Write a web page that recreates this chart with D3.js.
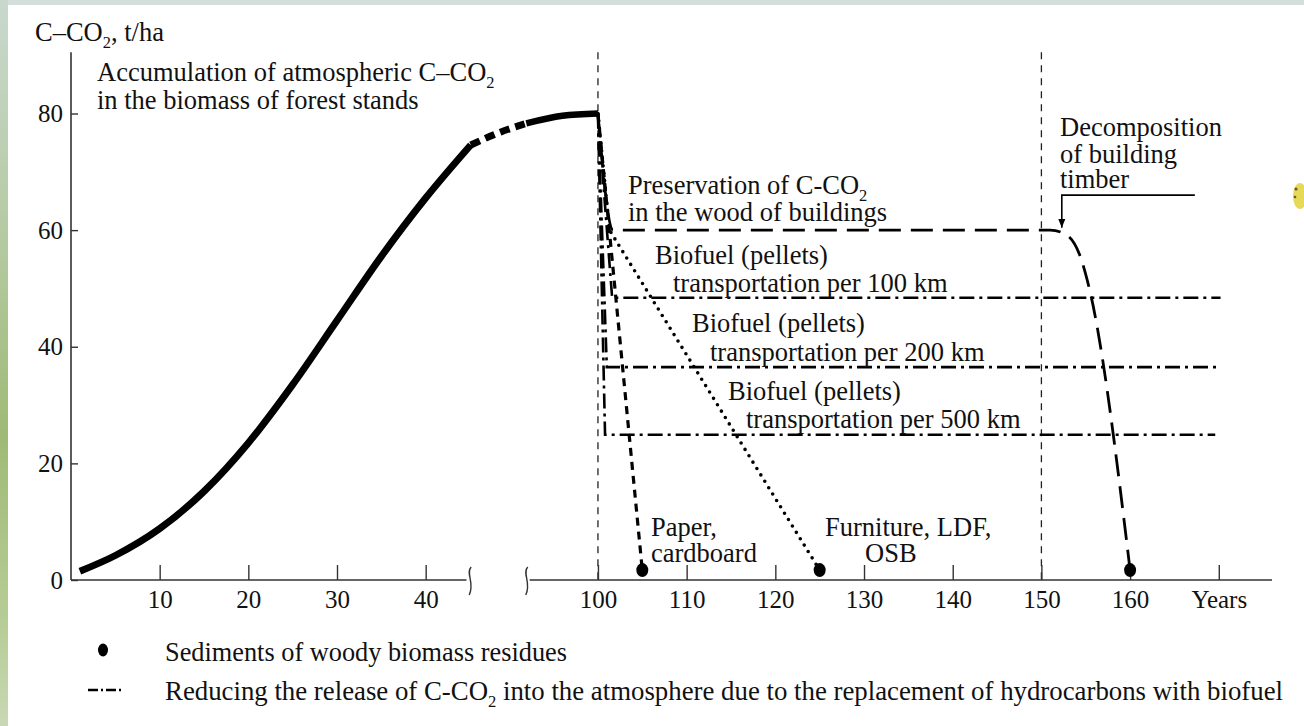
<!DOCTYPE html>
<html><head><meta charset="utf-8">
<script src="https://cdn.jsdelivr.net/npm/d3@7"></script>
<style>
html,body{margin:0;padding:0;background:#fff;overflow:hidden;}
svg{display:block;}
text{font-family:"Liberation Serif","DejaVu Serif","Times New Roman",serif;fill:#111;}
</style></head><body>
<svg id="chart" width="1304" height="726"></svg>
<script>
// ---------------- data ----------------
const growthYears   = [1, 5, 10, 15, 20, 25, 30, 35, 40, 45.6];
const growthValues  = [1.5, 4.2, 8.8, 15.2, 23.5, 33.5, 44.5, 55.5, 65.5, 74.6];
const breakYears    = [45.6, 70, 91.4];
const breakValues   = [74.6, 76.8, 78.3];
const matureYears   = [91.4, 96, 100];
const matureValues  = [78.3, 79.6, 80];

const buildingYears  = [100, 101.7, 151, 152.8, 154.3, 155.4, 160];
const buildingValues = [80, 60, 60, 59.2, 55.8, 50, 1.7];

const paperYears  = [100, 105];
const paperValues = [80, 1.7];

const furnitureYears  = [100, 101.3, 125];
const furnitureValues = [80, 60, 1.7];

const bio100Years = [100, 101.6, 170.2];
const bio100Values = [80, 48.4, 48.4];
const bio200Years = [100, 101.0, 170.2];
const bio200Values = [80, 36.5, 36.5];
const bio500Years = [100, 100.8, 169.6];
const bio500Values = [80, 24.9, 24.9];

const residueYears  = [105, 125, 160];
const residueValues = [1.7, 1.7, 1.7];

const guideYears = [100, 150];

const xTicksLeft  = [10, 20, 30, 40];
const xTicksRight = [100, 110, 120, 130, 140, 150, 160, 170];
const xTickLabels = {170: "Years"};
const yTicks = [0, 20, 40, 60, 80];

const arrowYears  = [167.3, 152.3, 152.3];
const arrowValues = [66.0, 66.0, 60.4];

// ---------------- layout ----------------
const svg = d3.select("#chart");
const x = d3.scaleLinear().domain([0, 45, 92, 176]).range([71, 470, 527, 1272]);
const y = d3.scaleLinear().domain([0, 80]).range([580, 113.5]);
const yTop = 90.5;
const FONT = '"Liberation Serif","DejaVu Serif","Times New Roman",serif';

// page decoration
const defs = svg.append("defs");
const grad = defs.append("linearGradient").attr("id","leftbar").attr("x1",0).attr("x2",0).attr("y1",0).attr("y2",1);
[[0,"#c9d8ce"],[0.35,"#b3c99e"],[0.6,"#9fba76"],[0.85,"#b6cc95"],[1,"#c8d8b4"]].forEach(d=>
  grad.append("stop").attr("offset",d[0]).attr("stop-color",d[1]));
svg.append("rect").attr("x",0).attr("y",0).attr("width",1304).attr("height",5).attr("fill","#d4dedb");
svg.append("rect").attr("x",0).attr("y",0).attr("width",8).attr("height",726).attr("fill","url(#leftbar)");
svg.append("ellipse").attr("cx",1300).attr("cy",196).attr("rx",7).attr("ry",13).attr("fill","#e0d23a").attr("opacity",0.85);
svg.append("circle").attr("cx",1296).attr("cy",189).attr("r",1.6).attr("fill","#6b5a20");
svg.append("circle").attr("cx",1295).attr("cy",197).attr("r",1.3).attr("fill","#6b5a20");

// helper for text with subscripts marked as {..}
function richText(g, str, px, py, size, opts={}) {
  const t = g.append("text").attr("x",px).attr("y",py).attr("font-size",size).attr("font-family",FONT);
  if (opts.anchor) t.attr("text-anchor",opts.anchor);
  const parts = str.split(/(\{[^}]*\})/).filter(p=>p.length);
  let pending = 0;
  parts.forEach(p=>{
    if (p[0]==="{") {
      t.append("tspan").attr("font-size",size*0.62).attr("dy",size*0.25).text(p.slice(1,-1));
      pending = -size*0.25;
    } else {
      const s = t.append("tspan").text(p);
      if (pending) { s.attr("dy",pending); pending = 0; }
    }
  });
  if (opts.len) t.attr("textLength",opts.len).attr("lengthAdjust","spacingAndGlyphs");
  return t;
}

// guide lines
svg.append("g").selectAll("line").data(guideYears).join("line")
  .attr("x1",d=>x(d)).attr("x2",d=>x(d)).attr("y1",y(yTop)).attr("y2",y(0))
  .attr("stroke","#222").attr("stroke-width",1.3).attr("stroke-dasharray","7,6");

// axes
const axisCol = "#333";
svg.append("line").attr("x1",x(0)).attr("x2",x(0)).attr("y1",y(0)).attr("y2",y(yTop))
  .attr("stroke",axisCol).attr("stroke-width",1.6);
const yAxis = svg.append("g").attr("transform",`translate(${x(0)},0)`)
  .call(d3.axisLeft(y).tickValues(yTicks).tickSizeInner(-7).tickSizeOuter(0).tickPadding(8));
yAxis.select(".domain").remove();
yAxis.selectAll(".tick line").attr("stroke",axisCol).attr("stroke-width",1.4);
yAxis.selectAll(".tick text").attr("font-size",25).attr("font-family",FONT).attr("fill","#111");

const xAxis = svg.append("g").attr("transform",`translate(0,${y(0)})`)
  .call(d3.axisBottom(x).tickValues(xTicksLeft.concat(xTicksRight)).tickSizeInner(-15).tickSizeOuter(0).tickPadding(10)
    .tickFormat(d=>xTickLabels[d]||String(d)));
xAxis.select(".domain").remove();
xAxis.selectAll(".tick line").attr("stroke",axisCol).attr("stroke-width",1.4);
xAxis.selectAll(".tick text").attr("font-size",25).attr("font-family",FONT).attr("fill","#111");

const segs = [[0,44.6],[92.3,176]];
svg.append("g").selectAll("line").data(segs).join("line")
  .attr("x1",d=>x(d[0])).attr("x2",d=>x(d[1])).attr("y1",y(0)).attr("y2",y(0))
  .attr("stroke",axisCol).attr("stroke-width",1.6);
// break squiggles
[45.15, 91.8].forEach(b=>{
  const cx = x(b), cy = y(0)+1;
  svg.append("path")
    .attr("d",`M${cx+1},${cy-14} C${cx-5},${cy-8} ${cx+5},${cy+2} ${cx-1},${cy+14}`)
    .attr("fill","none").attr("stroke",axisCol).attr("stroke-width",1.4);
});

// line generator
const lineGen = (curve)=> d3.line().x(d=>x(d[0])).y(d=>y(d[1])).curve(curve);
const zip = (a,b)=>a.map((v,i)=>[v,b[i]]);

// growth curve
svg.append("path").datum(zip(growthYears,growthValues))
  .attr("d",lineGen(d3.curveMonotoneX)).attr("fill","none").attr("stroke","#000").attr("stroke-width",7);
svg.append("path").datum(zip(breakYears,breakValues))
  .attr("d",lineGen(d3.curveMonotoneX)).attr("fill","none").attr("stroke","#000").attr("stroke-width",7)
  .attr("stroke-dasharray","10,6");
svg.append("path").datum(zip(matureYears,matureValues))
  .attr("d",lineGen(d3.curveMonotoneX)).attr("fill","none").attr("stroke","#000").attr("stroke-width",6.5);

// biofuel dash-dot
[[bio100Years,bio100Values],[bio200Years,bio200Values],[bio500Years,bio500Values]].forEach(s=>{
  svg.append("path").datum(zip(s[0],s[1])).attr("d",lineGen(d3.curveLinear))
    .attr("fill","none").attr("stroke","#000").attr("stroke-width",2.6).attr("stroke-dasharray","15,5,3,5");
});
// paper dashed
svg.append("path").datum(zip(paperYears,paperValues)).attr("d",lineGen(d3.curveLinear))
  .attr("fill","none").attr("stroke","#000").attr("stroke-width",3.2).attr("stroke-dasharray","8,6");
// furniture dotted
svg.append("path").datum(zip(furnitureYears,furnitureValues)).attr("d",lineGen(d3.curveLinear))
  .attr("fill","none").attr("stroke","#000").attr("stroke-width",3.6).attr("stroke-linecap","round")
  .attr("stroke-dasharray","0,7.5");
// building timber long dash
svg.append("path").datum(zip(buildingYears,buildingValues)).attr("d",lineGen(d3.curveMonotoneX))
  .attr("fill","none").attr("stroke","#000").attr("stroke-width",2.8).attr("stroke-dasharray","22,10");

// residue dots
svg.append("g").selectAll("ellipse").data(zip(residueYears,residueValues)).join("ellipse")
  .attr("cx",d=>x(d[0])).attr("cy",d=>y(d[1])).attr("rx",6).attr("ry",7).attr("fill","#000");

// arrow
defs.append("marker").attr("id","arr").attr("viewBox","0 0 10 10").attr("refX",10).attr("refY",5)
  .attr("markerWidth",9).attr("markerHeight",11).attr("markerUnits","userSpaceOnUse").attr("orient","auto")
  .append("path").attr("d","M0,1 L10,5 L0,9 Z").attr("fill","#000");
svg.append("path").datum(zip(arrowYears,arrowValues)).attr("d",lineGen(d3.curveLinear))
  .attr("fill","none").attr("stroke","#000").attr("stroke-width",1.6).attr("marker-end","url(#arr)");

// texts
const T = svg.append("g");
const fs = 26.5;
richText(T,"C\u2013CO{2}, t/ha",35,41,fs);
richText(T,"Accumulation of atmospheric C\u2013CO{2}",97,81,fs);
richText(T,"in the biomass of forest stands",97,109,fs);
richText(T,"Preservation of  C-CO{2}",628,194,fs);
richText(T,"in the wood of buildings",628,221,fs);
richText(T,"Biofuel (pellets)",655,264,fs);
richText(T,"transportation per 100 km",673,292,fs);
richText(T,"Biofuel (pellets)",692,332,fs);
richText(T,"transportation per 200 km",710,361,fs);
richText(T,"Biofuel (pellets)",728,400,fs);
richText(T,"transportation per 500 km",746,428,fs);
richText(T,"Decomposition",1060,136,fs);
richText(T,"of building",1060,163,fs);
richText(T,"timber",1060,188,fs);
richText(T,"Paper,",651,536,fs);
richText(T,"cardboard",651,562,fs);
richText(T,"Furniture, LDF,",825,536,fs);
richText(T,"OSB",865,562,fs);

// legend
const L = svg.append("g");
L.append("ellipse").attr("cx",103).attr("cy",650).attr("rx",5).attr("ry",6.5).attr("fill","#000");
L.append("line").attr("x1",88).attr("x2",123).attr("y1",690).attr("y2",690)
  .attr("stroke","#000").attr("stroke-width",2.4).attr("stroke-dasharray","10,3,2,3");
richText(L,"Sediments of woody biomass residues",165,661,28,{len:402});
richText(L,"Reducing the release of C-CO{2} into the atmosphere due to the replacement of hydrocarbons with biofuel",165,700,28,{len:1118});
</script>
</body></html>
